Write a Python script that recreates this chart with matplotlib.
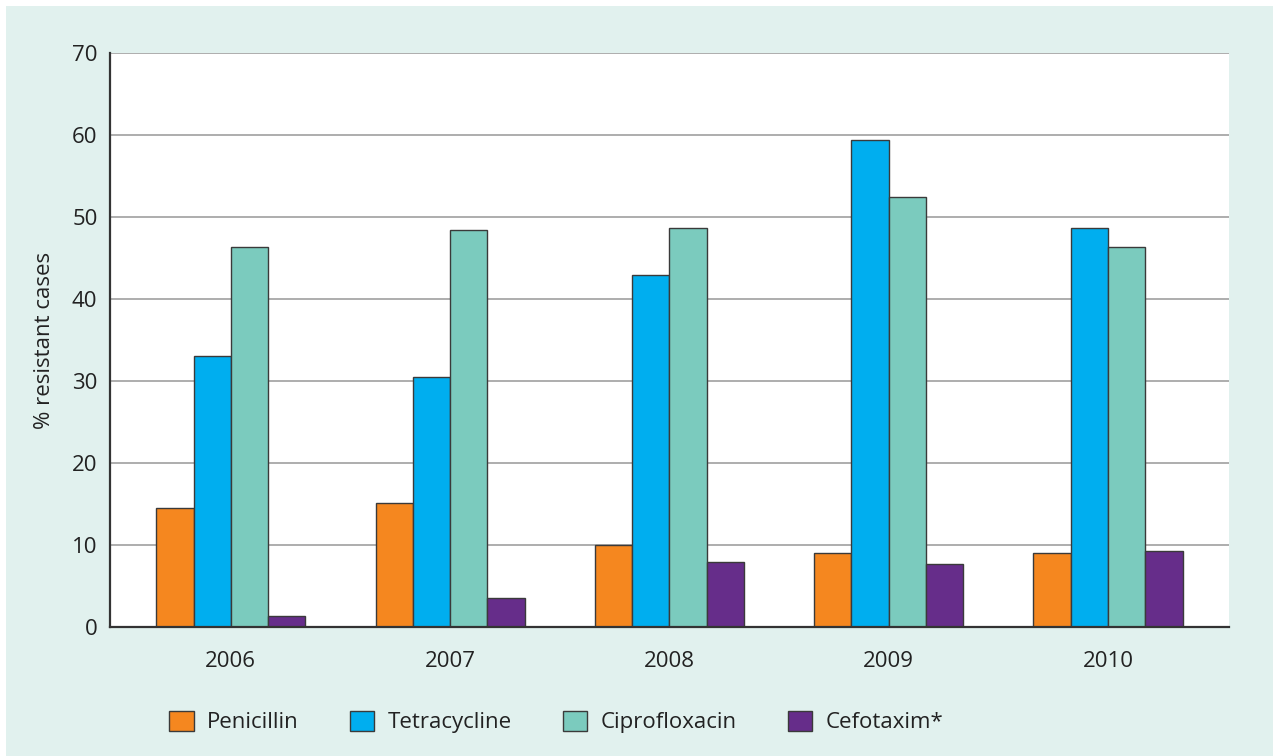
import matplotlib.pyplot as plt
import numpy as np
from matplotlib.patches import Rectangle

# resistance share per year and antibiotic
years = ['2006', '2007', '2008', '2009', '2010']
penicillin = [14.5, 15.2, 10.0, 9.0, 9.0]
tetracycline = [33.1, 30.5, 43.0, 59.4, 48.7]
ciprofloxacin = [46.3, 48.4, 48.7, 52.4, 46.3]
cefotaxim = [1.4, 3.6, 7.9, 7.7, 9.3]

series_names = ['Penicillin', 'Tetracycline', 'Ciprofloxacin', 'Cefotaxim*']
colors = ['#F5871F', '#00AEEF', '#7BCBBE', '#662D8A']

plt.rcParams['font.family'] = ['Open Sans', 'DejaVu Sans']

fig = plt.figure(figsize=(12.73, 7.56), dpi=100)
fig.patch.set_facecolor('white')
# mint panel behind the whole chart
fig.patches.append(Rectangle((6 / 1273, 0), 1 - 6 / 1273, 1 - 6 / 756,
                             transform=fig.transFigure, facecolor='#E1F1EE',
                             edgecolor='none', zorder=-10))

ax = fig.add_axes([110 / 1273, 1 - 627.3 / 756, (1229 - 110) / 1273, (627.3 - 53) / 756])
ax.set_facecolor('white')

x = np.arange(len(years))
width = 0.17
data = [penicillin, tetracycline, ciprofloxacin, cefotaxim]
for i, (vals, name, c) in enumerate(zip(data, series_names, colors)):
    ax.bar(x + (i - 1.5) * width, vals, width, color=c, edgecolor='#3a3a3a',
           linewidth=1.0, label=name, zorder=3)

ax.set_xlim(-0.551, 4.552)
ax.set_ylim(0, 70)
ax.set_yticks(range(0, 71, 10))
ax.set_xticks(x)
ax.set_xticklabels(years)
ax.yaxis.grid(True, color='#a0a0a0', linewidth=1.2, zorder=0)
ax.set_axisbelow(True)

for side in ['top', 'right']:
    ax.spines[side].set_visible(False)
for side in ['left', 'bottom']:
    ax.spines[side].set_color('#333333')
    ax.spines[side].set_linewidth(1.6)
    ax.spines[side].set_zorder(5)

ax.tick_params(axis='both', length=0, labelsize=16, colors='#222222')
ax.tick_params(axis='y', pad=9)
ax.tick_params(axis='x', pad=17)
ax.set_ylabel('% resistant cases', fontsize=16, color='#222222', labelpad=12)

fig.legend(loc='center', bbox_to_anchor=(0.437, 1 - 722 / 756), ncol=4,
           frameon=False, fontsize=16, handlelength=1.1, handleheight=1.05,
           handletextpad=0.6, columnspacing=2.3, labelcolor='#222222')

fig.savefig('out.png', dpi=100, facecolor=fig.get_facecolor())
